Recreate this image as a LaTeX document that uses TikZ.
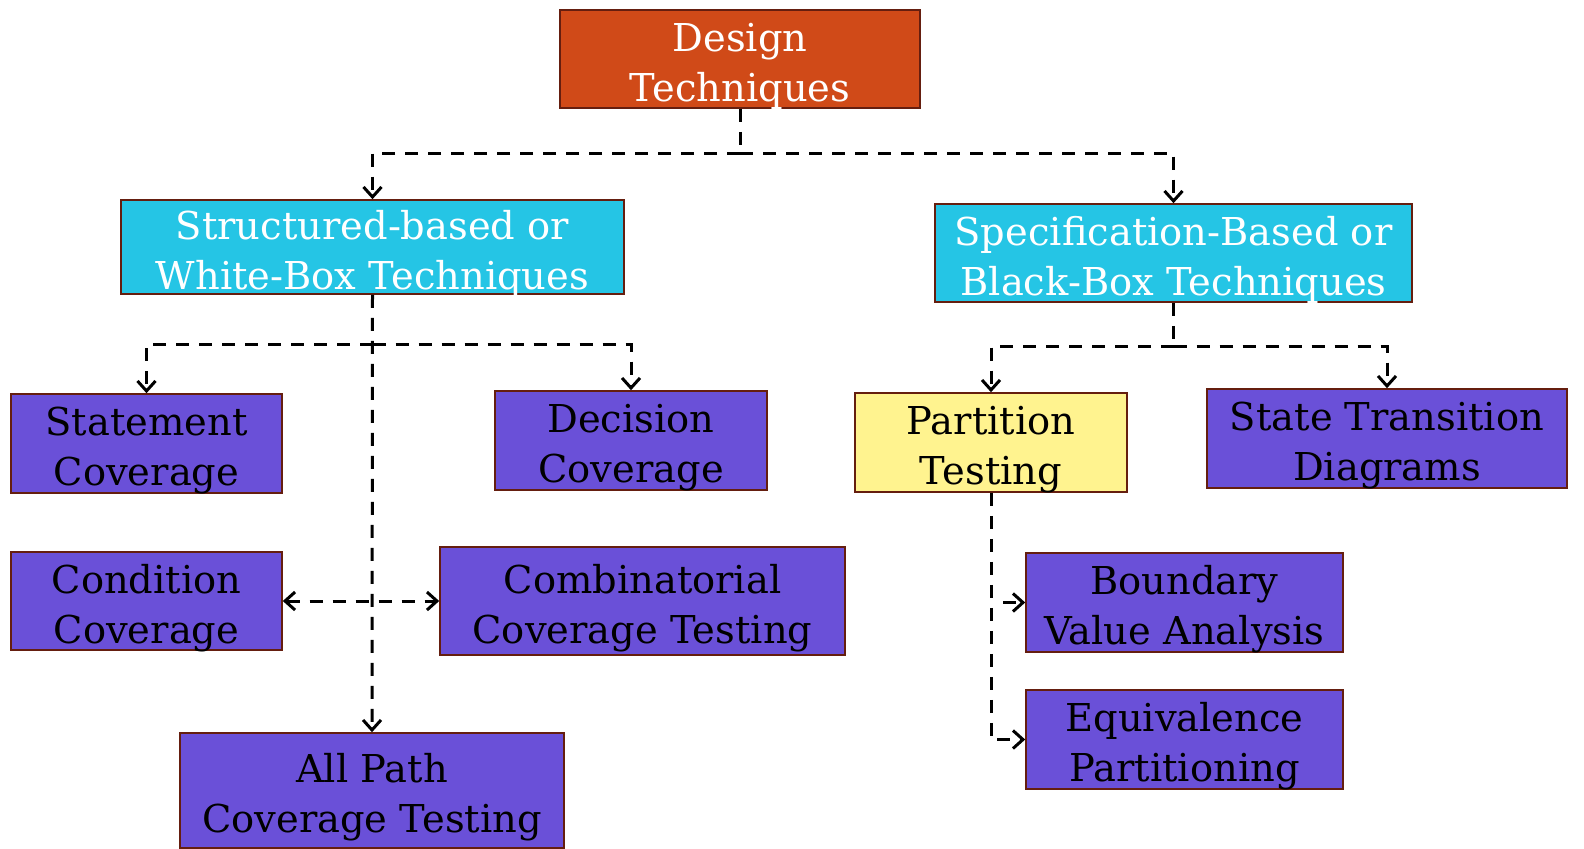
\documentclass[tikz,border=0pt]{standalone}
\usepackage{fontspec}
\setmainfont{DejaVu Serif}
\usetikzlibrary{arrows.meta}
\definecolor{rootred}{RGB}{208,74,24}
\definecolor{boxcyan}{RGB}{37,197,229}
\definecolor{boxviolet}{RGB}{106,80,216}
\definecolor{boxyellow}{RGB}{255,243,143}
\definecolor{edgebrown}{RGB}{101,30,15}
\begin{document}
\begin{tikzpicture}[x=0.5pt,y=-0.5pt,>={Straight Barb[length=5pt,width=9pt,line width=1.5pt]},
            font=\fontsize{19.2}{25}\selectfont,
            box/.style={draw=edgebrown,line width=0.8pt,align=center,inner sep=0pt,text height=42pt,text depth=0pt},
            root/.style={box,fill=rootred,text=white},
            branch/.style={box,fill=boxcyan,text=white},
            leaf/.style={box,fill=boxviolet,text=black},
            pick/.style={box,fill=boxyellow,text=black},
            link/.style={line width=1.5pt,dash pattern=on 6.5pt off 5pt}]
            \useasboundingbox (0,0) rectangle (1584,848);
            \node[root,minimum width=180pt,minimum height=49pt] (design) at (740,59) {Design\\Techniques};
            \node[branch,minimum width=251.5pt,minimum height=47pt] (struct) at (372.5,247) {Structured-based or\\White-Box Techniques};
            \node[branch,minimum width=238.5pt,minimum height=49pt] (spec) at (1173.5,253) {Specification-Based or\\Black-Box Techniques};
            \node[leaf,minimum width=135.5pt,minimum height=49.5pt] (stmt) at (146.5,443.5) {Statement\\Coverage};
            \node[leaf,minimum width=136pt,minimum height=49.5pt] (dec) at (631,440.5) {Decision\\Coverage};
            \node[leaf,minimum width=135.5pt,minimum height=49pt] (cond) at (146.5,601) {Condition\\Coverage};
            \node[leaf,minimum width=202.5pt,minimum height=54pt] (comb) at (642.5,601) {Combinatorial\\Coverage Testing};
            \node[leaf,minimum width=192pt,minimum height=57.5pt] (allpath) at (372,790.5) {All Path\\Coverage Testing};
            \node[pick,minimum width=136pt,minimum height=49.5pt] (part) at (991,442.5) {Partition\\Testing};
            \node[leaf,minimum width=180pt,minimum height=49.5pt] (state) at (1387,438.5) {State Transition\\Diagrams};
            \node[leaf,minimum width=158.5pt,minimum height=49.5pt] (bound) at (1184.5,602.5) {Boundary\\Value Analysis};
            \node[leaf,minimum width=158.5pt,minimum height=49.5pt] (equiv) at (1184.5,739.5) {Equivalence\\Partitioning};
            % top level
            \coordinate (rootjoin) at (740,153);
            \draw[link] (design.south)--(rootjoin);
            \draw[link,->] (rootjoin)-|(struct.north);
            \draw[link,->] (rootjoin)-|(spec.north);
            % white-box side
            \coordinate (whitejoin) at (372.5,344);
            \draw[link,->] (whitejoin)-|(stmt.north);
            \draw[link,->] (whitejoin)-|(dec.north);
            \draw[link,->] (struct.south)--(allpath.north);
            \draw[link,<->] (cond.east)--(comb.west);
            % black-box side
            \coordinate (blackjoin) at (1173.5,346);
            \draw[link] (spec.south)--(blackjoin);
            \draw[link,->] (blackjoin)-|(part.north);
            \draw[link,->] (blackjoin)-|(state.north);
            \draw[link,->] (part.south)|-(equiv.west);
            \draw[link,->,shorten <=6pt] (part.south|-bound.west)--(bound.west);
        \end{tikzpicture}
\end{document}
